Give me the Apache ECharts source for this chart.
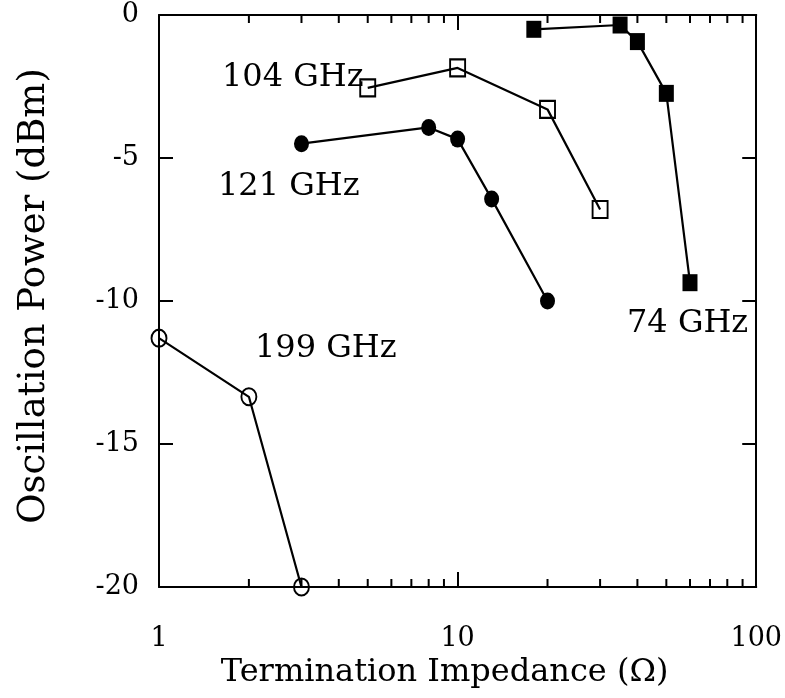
<!DOCTYPE html>
<html>
<head>
<meta charset="utf-8">
<script src="https://cdn.jsdelivr.net/npm/echarts@6/dist/echarts.min.js"></script>
<style>
html,body{margin:0;padding:0;background:#fff;}
#c{width:785px;height:698px;}
</style>
</head>
<body>
<div id="c"></div>
<script>
// ---- data (impedance in ohm, power in dBm) ----
var s74  = [[18, -0.5], [35, -0.35], [40, -0.93], [50, -2.74], [60, -9.36]];
var s104 = [[5, -2.55], [10, -1.85], [20, -3.3], [30, -6.8]];
var s121 = [[3, -4.5], [8, -3.93], [10, -4.34], [13, -6.43], [20, -10]];
var s199 = [[1, -11.3], [2, -13.35], [3, -20]];
var seriesNames = ['74 GHz', '104 GHz', '121 GHz', '199 GHz'];
var xTickLabels = ['1', '10', '100'];
var yTickLabels = ['-20', '-15', '-10', '-5', '0'];
var minorTickValues = [2, 3, 4, 5, 6, 7, 8, 9, 20, 30, 40, 50, 60, 70, 80, 90];
var xMin = 1, xMax = 100, yMin = -20, yMax = 0, yStep = 5;

var FONT = 'DejaVu Serif';
var chart = echarts.init(document.getElementById('c'), null, {renderer: 'canvas'});

function lineSeries(name, data, symbol, filled) {
  return {
    name: name,
    type: 'line',
    data: data,
    symbol: symbol,
    symbolSize: [15, 17],
    showAllSymbol: true,
    lineStyle: {color: '#000', width: 2.2},
    itemStyle: {
      color: filled ? '#000' : 'rgba(0,0,0,0)',
      borderColor: '#000',
      borderWidth: filled ? 0 : 2
    },
    emphasis: {disabled: true},
    z: 3,
    animation: false
  };
}

var axisLabelY = {
  fontFamily: FONT, fontSize: 27, color: '#000', margin: 20,
  formatter: function (v) { return yTickLabels[yTickLabels.indexOf(String(v))] || String(v); }
};

var option = {
  animation: false,
  backgroundColor: '#fff',
  grid: {left: 159, right: 25, top: 15, bottom: 111, containLabel: false},
  xAxis: [{
    type: 'log', logBase: 10, min: xMin, max: xMax, position: 'bottom',
    axisLine: {show: true, onZero: false, lineStyle: {color: '#000', width: 2}},
    axisTick: {show: true, inside: true, length: 15, lineStyle: {color: '#000', width: 2}},
    axisLabel: {fontFamily: FONT, fontSize: 27, color: '#000', margin: 38,
      formatter: function (v) { return xTickLabels[Math.round(Math.log10(v))]; }},
    splitLine: {show: false},
    name: 'Termination Impedance (\u03A9)', nameLocation: 'middle', nameGap: 63,
    nameTextStyle: {fontFamily: FONT, fontSize: 32, color: '#000', padding: [0, 26, 0, 0]}
  }, {
    type: 'log', logBase: 10, min: xMin, max: xMax, position: 'top',
    axisLine: {show: true, onZero: false, lineStyle: {color: '#000', width: 2}},
    axisTick: {show: true, inside: true, length: 15, lineStyle: {color: '#000', width: 2}},
    axisLabel: {show: false}, splitLine: {show: false}
  }],
  yAxis: [{
    type: 'value', min: yMin, max: yMax, interval: yStep, position: 'left',
    axisLine: {show: true, onZero: false, lineStyle: {color: '#000', width: 2}},
    axisTick: {show: true, inside: true, length: 14, lineStyle: {color: '#000', width: 2}},
    axisLabel: axisLabelY,
    splitLine: {show: false},
    name: 'Oscillation Power (dBm)', nameLocation: 'middle', nameGap: 106, nameRotate: 90,
    nameTextStyle: {fontFamily: FONT, fontSize: 37, color: '#000', padding: [0, 0, 0, 10]}
  }, {
    type: 'value', min: yMin, max: yMax, interval: yStep, position: 'right',
    axisLine: {show: true, onZero: false, lineStyle: {color: '#000', width: 2}},
    axisTick: {show: true, inside: true, length: 14, lineStyle: {color: '#000', width: 2}},
    axisLabel: {show: false}, splitLine: {show: false}
  }],
  graphic: [
    {type: 'text', left: 222, top: 62, style: {text: seriesNames[1], font: '32px "DejaVu Serif"', fill: '#000'}},
    {type: 'text', left: 218, top: 171, style: {text: seriesNames[2], font: '32px "DejaVu Serif"', fill: '#000'}},
    {type: 'text', left: 255, top: 333, style: {text: seriesNames[3], font: '32px "DejaVu Serif"', fill: '#000'}},
    {type: 'text', left: 627, top: 308, style: {text: seriesNames[0], font: '32px "DejaVu Serif"', fill: '#000'}}
  ],
  series: [
    lineSeries(seriesNames[0], s74, 'rect', true),
    lineSeries(seriesNames[1], s104, 'rect', false),
    lineSeries(seriesNames[2], s121, 'circle', true),
    lineSeries(seriesNames[3], s199, 'circle', false),
    {
      type: 'custom',
      name: 'minorTicks',
      data: minorTickValues.map(function (v) { return [v]; }),
      clip: false,
      silent: true,
      animation: false,
      encode: {x: 0},
      renderItem: function (params, api) {
        var v = api.value(0);
        var b = api.coord([v, yMin]);
        var t = api.coord([v, yMax]);
        var len = 8;
        var st = {stroke: '#000', lineWidth: 2};
        return {
          type: 'group',
          children: [
            {type: 'line', shape: {x1: b[0], y1: b[1], x2: b[0], y2: b[1] - len}, style: st},
            {type: 'line', shape: {x1: t[0], y1: t[1], x2: t[0], y2: t[1] + len}, style: st}
          ]
        };
      }
    }
  ]
};
chart.setOption(option);
</script>
</body>
</html>
